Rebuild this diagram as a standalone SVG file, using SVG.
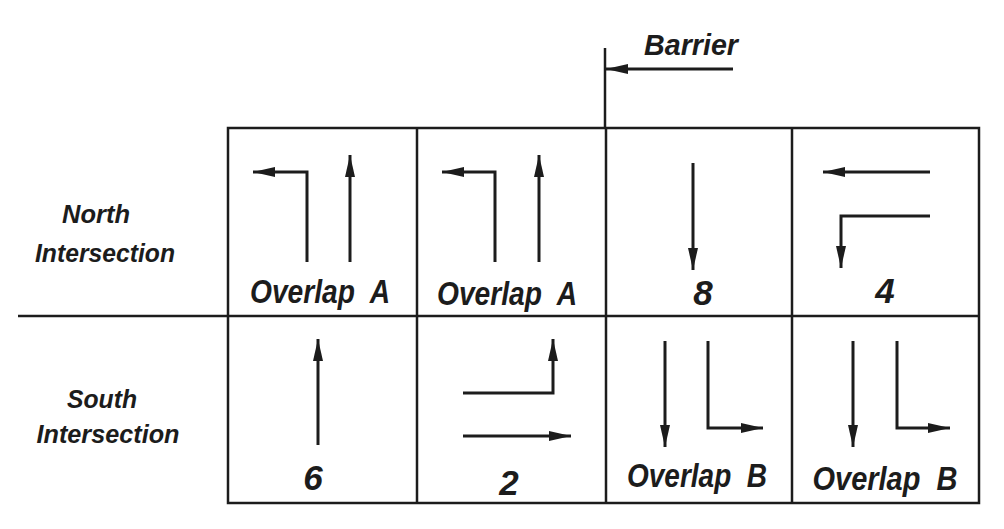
<svg xmlns="http://www.w3.org/2000/svg" width="1004" height="529" viewBox="0 0 1004 529">
<style>
.bg{fill:#ffffff}
.grid{fill:none;stroke:#1c1c1c;stroke-width:2.5}
.arr{fill:none;stroke:#1c1c1c;stroke-width:3;stroke-linejoin:miter;marker-end:url(#ah)}
.t{font-family:"Liberation Sans",Arial,sans-serif;font-style:italic;font-weight:bold;fill:#1c1c1c;text-anchor:middle;white-space:pre}
.lbl{font-size:34px}
.num{font-size:35px}
.row{font-size:26px}
</style>
<defs>
<marker id="ah" markerUnits="userSpaceOnUse" markerWidth="24" markerHeight="12" refX="22" refY="5.5" orient="auto">
<path d="M0,0.5 L22,5.5 L0,10.5 Z" fill="#1c1c1c"/>
</marker>
</defs>
<rect class="bg" x="0" y="0" width="1004" height="529"/>
<g id="table">
<rect class="grid" x="228" y="128" width="751" height="375"/>
<line class="grid" x1="18" y1="316" x2="979" y2="316"/>
<line class="grid" x1="417" y1="128" x2="417" y2="503"/>
<line class="grid" x1="606" y1="128" x2="606" y2="503"/>
<line class="grid" x1="792" y1="128" x2="792" y2="503"/>
</g>
<g id="barrier">
<line class="grid" x1="605" y1="48" x2="605" y2="128"/>
<path class="arr" d="M733,69 L606,69"/>
<text class="t" x="691" y="55" font-size="30" textLength="94" lengthAdjust="spacingAndGlyphs">Barrier</text>
</g>
<g id="north-label">
<text class="t row" x="96" y="223" textLength="68" lengthAdjust="spacingAndGlyphs">North</text>
<text class="t row" x="105" y="262" textLength="140" lengthAdjust="spacingAndGlyphs">Intersection</text>
</g>
<g id="south-label">
<text class="t row" x="102" y="408" textLength="70" lengthAdjust="spacingAndGlyphs">South</text>
<text class="t row" x="108" y="443" textLength="143" lengthAdjust="spacingAndGlyphs">Intersection</text>
</g>
<g id="cell-n1">
<path class="arr" d="M307,262 L307,172 L253,172"/>
<path class="arr" d="M350,262 L350,155"/>
<text class="t lbl" x="320" y="303" textLength="140" lengthAdjust="spacingAndGlyphs">Overlap  A</text>
</g>
<g id="cell-n2">
<path class="arr" d="M495,262 L495,172 L442,172"/>
<path class="arr" d="M539,262 L539,155"/>
<text class="t lbl" x="507" y="305" textLength="140" lengthAdjust="spacingAndGlyphs">Overlap  A</text>
</g>
<g id="cell-n3">
<path class="arr" d="M693,163 L693,270"/>
<text class="t num" x="703" y="305">8</text>
</g>
<g id="cell-n4">
<path class="arr" d="M930,172 L823,172"/>
<path class="arr" d="M930,216 L841,216 L841,268"/>
<text class="t num" x="885" y="303">4</text>
</g>
<g id="cell-s1">
<path class="arr" d="M318,445 L318,339"/>
<text class="t num" x="313" y="490">6</text>
</g>
<g id="cell-s2">
<path class="arr" d="M463,393 L553,393 L553,339"/>
<path class="arr" d="M463,436 L571,436"/>
<text class="t num" x="509" y="495">2</text>
</g>
<g id="cell-s3">
<path class="arr" d="M665,341 L665,447"/>
<path class="arr" d="M708,341 L708,428 L763,428"/>
<text class="t lbl" x="697" y="487" textLength="140" lengthAdjust="spacingAndGlyphs">Overlap  B</text>
</g>
<g id="cell-s4">
<path class="arr" d="M853,341 L853,447"/>
<path class="arr" d="M897,341 L897,428 L950,428"/>
<text class="t lbl" x="885" y="490" textLength="145" lengthAdjust="spacingAndGlyphs">Overlap  B</text>
</g>
</svg>
